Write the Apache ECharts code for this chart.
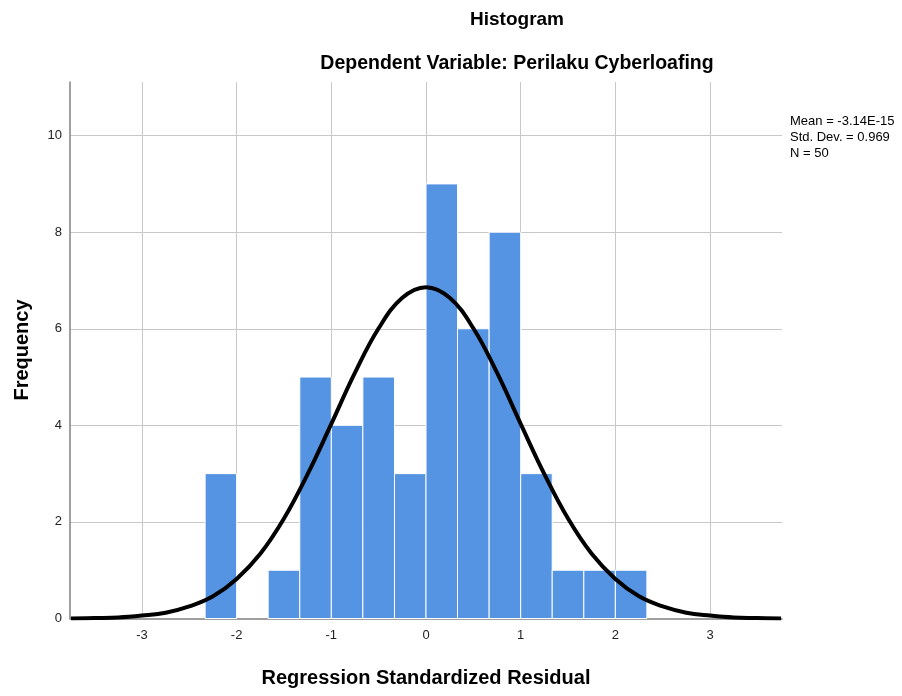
<!DOCTYPE html>
<html>
<head>
<meta charset="utf-8">
<script src="https://cdn.jsdelivr.net/npm/echarts@6/dist/echarts.min.js"></script>
<style>
html,body{margin:0;padding:0;background:#fff;}
#chart{width:902px;height:696px;}
</style>
</head>
<body>
<div id="chart"></div>
<script>
// Histogram bins (lower edge, upper edge) and frequencies
var binLow  = [-2.333, -1.667, -1.333, -1.000, -0.667, -0.333, 0.000, 0.333, 0.667, 1.000, 1.333, 1.667, 2.000];
var binHigh = [-2.000, -1.333, -1.000, -0.667, -0.333,  0.000, 0.333, 0.667, 1.000, 1.333, 1.667, 2.000, 2.333];
var freq    = [3, 1, 5, 4, 5, 3, 9, 6, 8, 3, 1, 1, 1];

// Normal curve points
var curveX = [-3.75,-3.5,-3.25,-3,-2.75,-2.5,-2.25,-2,-1.75,-1.5,-1.25,-1,-0.75,-0.5,-0.25,0,0.25,0.5,0.75,1,1.25,1.5,1.75,2,2.25,2.5,2.75,3,3.25,3.5,3.75];
var curveY = [0.00,0.01,0.02,0.06,0.12,0.25,0.46,0.82,1.34,2.07,2.99,4.03,5.09,6.01,6.64,6.86,6.64,6.01,5.09,4.03,2.99,2.07,1.34,0.82,0.46,0.25,0.12,0.06,0.02,0.01,0.00];

// Tick values
var xTicks = [-3, -2, -1, 0, 1, 2, 3];
var yTicks = [0, 2, 4, 6, 8, 10];

var titleText = 'Histogram';
var subtitleText = 'Dependent Variable: Perilaku Cyberloafing';
var xTitle = 'Regression Standardized Residual';
var yTitle = 'Frequency';
var statsLines = ['Mean = -3.14E-15', 'Std. Dev. = 0.969', 'N = 50'];

var barData = binLow.map(function (lo, i) { return [lo, binHigh[i], freq[i]]; });
var lineData = curveX.map(function (x, i) { return [x, curveY[i]]; });

var chart = echarts.init(document.getElementById('chart'), null, {renderer: 'canvas'});
var FONT = '"Liberation Sans", Arial, sans-serif';
var GRID = '#c8c8c8';

chart.setOption({
  animation: false,
  backgroundColor: '#ffffff',
  grid: {left: 70, right: 120, top: 82, bottom: 77.5, containLabel: false},
  xAxis: {
    type: 'value', min: -3.76, max: 3.76,
    axisLine: {show: true, onZero: false, lineStyle: {color: '#808080', width: 1.5}},
    axisTick: {show: false, customValues: xTicks},
    axisLabel: {show: true, customValues: xTicks, color: '#222222', fontSize: 13, fontFamily: FONT, margin: 10},
    splitLine: {show: false}
  },
  yAxis: {
    type: 'value', min: 0, max: 11.11, interval: 2,
    axisLine: {show: true, onZero: false, lineStyle: {color: '#808080', width: 1.5}},
    axisTick: {show: false},
    axisLabel: {show: true, showMaxLabel: false, color: '#222222', fontSize: 13, fontFamily: FONT, margin: 8,
      formatter: function (v) { return yTicks.indexOf(v) >= 0 ? String(v) : ''; }},
    splitLine: {show: true, showMinLine: false, showMaxLine: false, lineStyle: {color: GRID, width: 1}}
  },
  series: [
    {
      type: 'custom',
      z: 2,
      data: barData,
      encode: {x: [0, 1], y: 2},
      renderItem: function (params, api) {
        var p0 = api.coord([api.value(0), api.value(2)]);
        var p1 = api.coord([api.value(1), 0]);
        return {
          type: 'rect',
          shape: {x: p0[0], y: p0[1], width: p1[0] - p0[0], height: p1[1] - p0[1]},
          style: {fill: '#5594e3', stroke: '#ffffff', lineWidth: 1}
        };
      },
      markLine: {
        z: 1,
        silent: true,
        symbol: ['none', 'none'],
        label: {show: false},
        emphasis: {disabled: true},
        lineStyle: {color: GRID, width: 1, type: 'solid'},
        data: xTicks.map(function (v) { return {xAxis: v}; })
      }
    },
    {
      type: 'line',
      z: 5,
      data: lineData,
      smooth: 0.4,
      showSymbol: false,
      lineStyle: {color: '#000000', width: 4}
    }
  ],
  graphic: [
    {type: 'text', x: 517, y: 20, z: 10,
      style: {text: titleText, align: 'center', verticalAlign: 'middle', fill: '#000', font: 'bold 19px ' + FONT}},
    {type: 'text', x: 517, y: 64, z: 10,
      style: {text: subtitleText, align: 'center', verticalAlign: 'middle', fill: '#000', font: 'bold 19.5px ' + FONT}},
    {type: 'text', x: 426, y: 678, z: 10,
      style: {text: xTitle, align: 'center', verticalAlign: 'middle', fill: '#000', font: 'bold 20px ' + FONT}},
    {type: 'text', x: 22, y: 350, rotation: Math.PI / 2, z: 10,
      style: {text: yTitle, align: 'center', verticalAlign: 'middle', fill: '#000', font: 'bold 20px ' + FONT}},
    {type: 'text', x: 790, y: 113, z: 10,
      style: {text: statsLines.join('\n'), align: 'left', verticalAlign: 'top', fill: '#000', font: '13px ' + FONT, lineHeight: 16}}
  ]
});
</script>
</body>
</html>
